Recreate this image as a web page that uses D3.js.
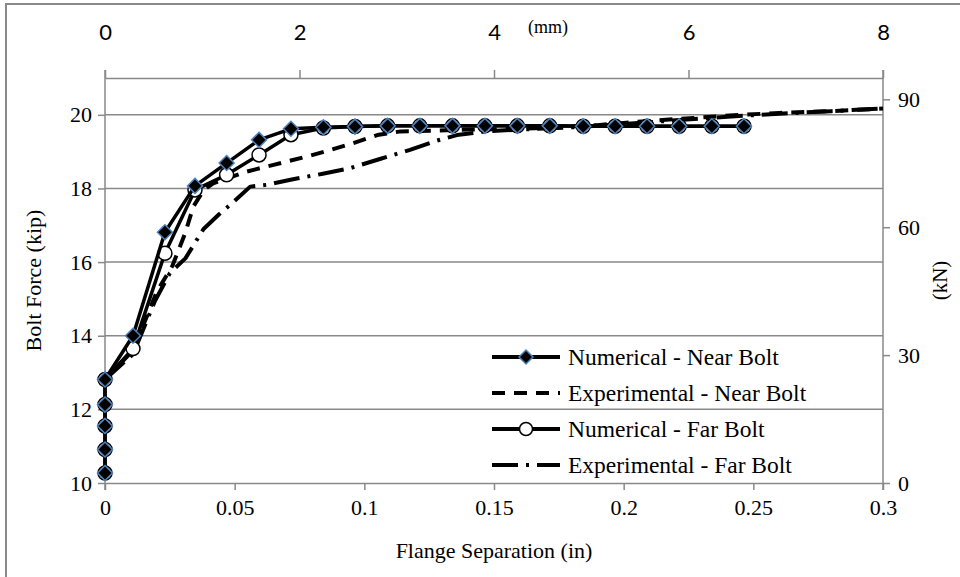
<!DOCTYPE html>
<html>
<head>
<meta charset="utf-8">
<script src="https://cdn.jsdelivr.net/npm/d3@7"></script>
<style>
  body { margin: 0; background: #fff; }
  svg text { font-family: "Liberation Serif", "Times New Roman", serif; fill: #000; }
  .topax text { font-family: Lato, "Open Sans", sans-serif; }
</style>
</head>
<body>
<svg id="chart" width="960" height="577"></svg>
<script>
"use strict"
/* Bolt force vs flange separation, numerical and experimental, near and far bolt */

// Numerical series share one set of separations (in)
var numX = [0, 0, 0, 0, 0, 0.0108, 0.0231, 0.0347, 0.0469, 0.0594, 0.0717, 0.0842, 0.0964,
            0.1090, 0.1214, 0.1340, 0.1465, 0.1590, 0.1715, 0.1844, 0.1967, 0.2090, 0.2214, 0.2340, 0.2464];
var numNear = [10.27, 10.91, 11.55, 12.13, 12.81, 14.0, 16.81, 18.07, 18.69, 19.32, 19.62, 19.66, 19.68,
               19.70, 19.70, 19.70, 19.70, 19.70, 19.70, 19.69, 19.69, 19.69, 19.69, 19.69, 19.69];
var numFar = [10.27, 10.91, 11.55, 12.13, 12.81, 13.65, 16.24, 17.96, 18.37, 18.91, 19.46, 19.64, 19.68,
              19.70, 19.70, 19.70, 19.70, 19.70, 19.70, 19.69, 19.69, 19.69, 19.69, 19.69, 19.69];

// Experimental near bolt
var expNearX = [0, 0.0108, 0.020, 0.026, 0.031, 0.034, 0.038, 0.0417, 0.0547, 0.065, 0.078, 0.0857, 0.0957,
                0.105, 0.114, 0.127, 0.140, 0.160, 0.180, 0.190, 0.200, 0.215, 0.228, 0.245, 0.260, 0.280, 0.300];
var expNearY = [12.81, 13.6, 15.2, 15.9, 16.8, 17.5, 17.95, 18.14, 18.46, 18.64, 18.87, 19.02, 19.23,
                19.45, 19.55, 19.57, 19.60, 19.62, 19.68, 19.72, 19.78, 19.86, 19.92, 20.0, 20.05, 20.1, 20.17];

// Experimental far bolt
var expFarX = [0, 0.0108, 0.0193, 0.025, 0.031, 0.038, 0.044, 0.049, 0.056, 0.0625, 0.0725, 0.084, 0.0945,
               0.106, 0.1176, 0.128, 0.1357, 0.147, 0.160, 0.180, 0.200, 0.220, 0.240, 0.260, 0.280, 0.300];
var expFarY = [12.81, 13.5, 14.95, 15.7, 16.1, 16.9, 17.3, 17.6, 18.05, 18.1, 18.25, 18.4, 18.55,
               18.8, 19.05, 19.3, 19.45, 19.55, 19.6, 19.66, 19.75, 19.85, 19.95, 20.03, 20.1, 20.17];

var xTicks = [0, 0.05, 0.1, 0.15, 0.2, 0.25, 0.3],
    yTicks = [10, 12, 14, 16, 18, 20],
    mmTicks = [0, 2, 4, 6, 8],
    kNTicks = [0, 30, 60, 90];

var legendNames = ["Numerical - Near Bolt", "Experimental - Near Bolt", "Numerical - Far Bolt", "Experimental - Far Bolt"];

var svg = d3.select("svg#chart"),
    grey = "#898989",
    padL = 105, padR = 883, padT = 78, padB = 483;

var x = d3.scaleLinear().domain([0, 0.3]).range([padL, padR]),
    y = d3.scaleLinear().domain([10, 21]).range([padB, padT]),
    xmm = d3.scaleLinear().domain([0, 8]).range([padL, padR]),
    ykN = d3.scaleLinear().domain([0, 95]).range([padB, padT]);

function zip(xs, ys) { return xs.map(function(v, i) { return [v, ys[i]]; }); }

// outer frame
svg.append("rect").attr("x", 6).attr("y", 4).attr("width", 970).attr("height", 600)
  .attr("fill", "none").attr("stroke", grey).attr("stroke-width", 2);

// gridlines
svg.append("g").selectAll("line").data(yTicks.slice(1)).enter().append("line")
  .attr("x1", padL).attr("x2", padR)
  .attr("y1", function(d) { return y(d); }).attr("y2", function(d) { return y(d); })
  .attr("stroke", grey).attr("stroke-width", 1.5);

function styleAxis(g) {
  g.selectAll("path, line").attr("stroke", grey).attr("stroke-width", 1.5);
}

// bottom axis
var gx = svg.append("g").attr("transform", "translate(0," + padB + ")")
  .call(d3.axisBottom(x).tickValues(xTicks).tickSize(7).tickSizeOuter(0).tickFormat(d3.format("")));
styleAxis(gx);
gx.selectAll("text").attr("font-size", 22).attr("dy", "1.0em").attr("font-family", "Liberation Serif");

// left axis
var gy = svg.append("g").attr("transform", "translate(" + padL + ",0)")
  .call(d3.axisLeft(y).tickValues(yTicks).tickSize(7).tickSizeOuter(0));
styleAxis(gy);
gy.select(".domain").attr("d", "M0," + (padT - 8) + "V" + (padB + 7));
gy.selectAll("text").attr("font-size", 22).attr("x", -13).attr("font-family", "Liberation Serif");

// top axis (mm)
var gt = svg.append("g").attr("class", "topax").attr("transform", "translate(0," + padT + ")")
  .call(d3.axisTop(xmm).tickValues(mmTicks).tickSize(8).tickSizeOuter(0));
styleAxis(gt);
gt.selectAll("text").attr("font-size", 22).attr("y", -45).attr("dy", "0.32em");

// right axis (kN)
var gr = svg.append("g").attr("transform", "translate(" + padR + ",0)")
  .call(d3.axisRight(ykN).tickValues(kNTicks).tickSize(7).tickSizeOuter(0));
styleAxis(gr);
gr.select(".domain").attr("d", "M0," + (padT - 8) + "V" + (padB + 7));
gr.selectAll("text").attr("font-size", 22).attr("x", 15).attr("font-family", "Liberation Serif");

svg.selectAll(".tick text").attr("fill", "#000");

// axis titles
svg.append("text").attr("x", (padL + padR) / 2).attr("y", 550).attr("dy", "0.35em")
  .attr("text-anchor", "middle").attr("font-size", 22).text("Flange Separation (in)");
svg.append("text").attr("transform", "translate(33," + (padT + padB) / 2 + ") rotate(-90)")
  .attr("dy", "0.35em").attr("text-anchor", "middle").attr("font-size", 22).text("Bolt Force (kip)");
svg.append("text").attr("transform", "translate(940," + (padT + padB) / 2 + ") rotate(-90)")
  .attr("dy", "0.35em").attr("text-anchor", "middle").attr("font-size", 21).text("(kN)");
svg.append("text").attr("x", 548).attr("y", 27).attr("dy", "0.35em")
  .attr("text-anchor", "middle").attr("font-size", 18).text("(mm)");

var line = d3.line().x(function(d) { return x(d[0]); }).y(function(d) { return y(d[1]); });

var series = [
  { data: zip(expFarX, expFarY), dash: "26,8,3,8", width: 4 },
  { data: zip(expNearX, expNearY), dash: "13,9", width: 4 },
  { data: zip(numX, numFar), dash: null, width: 3.5, marker: "circle" },
  { data: zip(numX, numNear), dash: null, width: 3.5, marker: "diamond" }
];

var plot = svg.append("g");
series.forEach(function(s) {
  plot.append("path").datum(s.data).attr("d", line)
    .attr("fill", "none").attr("stroke", "#000").attr("stroke-width", s.width)
    .attr("stroke-dasharray", s.dash).attr("stroke-linejoin", "round");
  if (s.marker == "circle") {
    plot.append("g").selectAll("circle").data(s.data).enter().append("circle")
      .attr("cx", function(d) { return x(d[0]); }).attr("cy", function(d) { return y(d[1]); })
      .attr("r", 7).attr("fill", "#fff").attr("stroke", "#000").attr("stroke-width", 1.5);
  }
  if (s.marker == "diamond") {
    plot.append("g").selectAll("path").data(s.data).enter().append("path")
      .attr("d", "M0,-7.5L7.5,0L0,7.5L-7.5,0Z")
      .attr("transform", function(d) { return "translate(" + x(d[0]) + "," + y(d[1]) + ")"; })
      .attr("fill", "#000").attr("stroke", "#4f81bd").attr("stroke-width", 1.5);
  }
});

// legend
var leg = svg.append("g").attr("transform", "translate(492,357)"),
    legDash = [null, "13,9", null, "26,8,3,8"];
legendNames.forEach(function(name, i) {
  var row = leg.append("g").attr("transform", "translate(0," + i * 36 + ")");
  row.append("line").attr("x1", 0).attr("x2", 68).attr("stroke", "#000")
    .attr("stroke-width", 4).attr("stroke-dasharray", legDash[i]);
  if (i == 0) row.append("path").attr("d", "M34,-7L41,0L34,7L27,0Z")
    .attr("fill", "#000").attr("stroke", "#4f81bd").attr("stroke-width", 1.5);
  if (i == 2) row.append("circle").attr("cx", 34).attr("r", 6.5)
    .attr("fill", "#fff").attr("stroke", "#000").attr("stroke-width", 1.5);
  row.append("text").attr("x", 76).attr("dy", "0.35em").attr("font-size", 23.5).text(name);
});
</script>
</body>
</html>
